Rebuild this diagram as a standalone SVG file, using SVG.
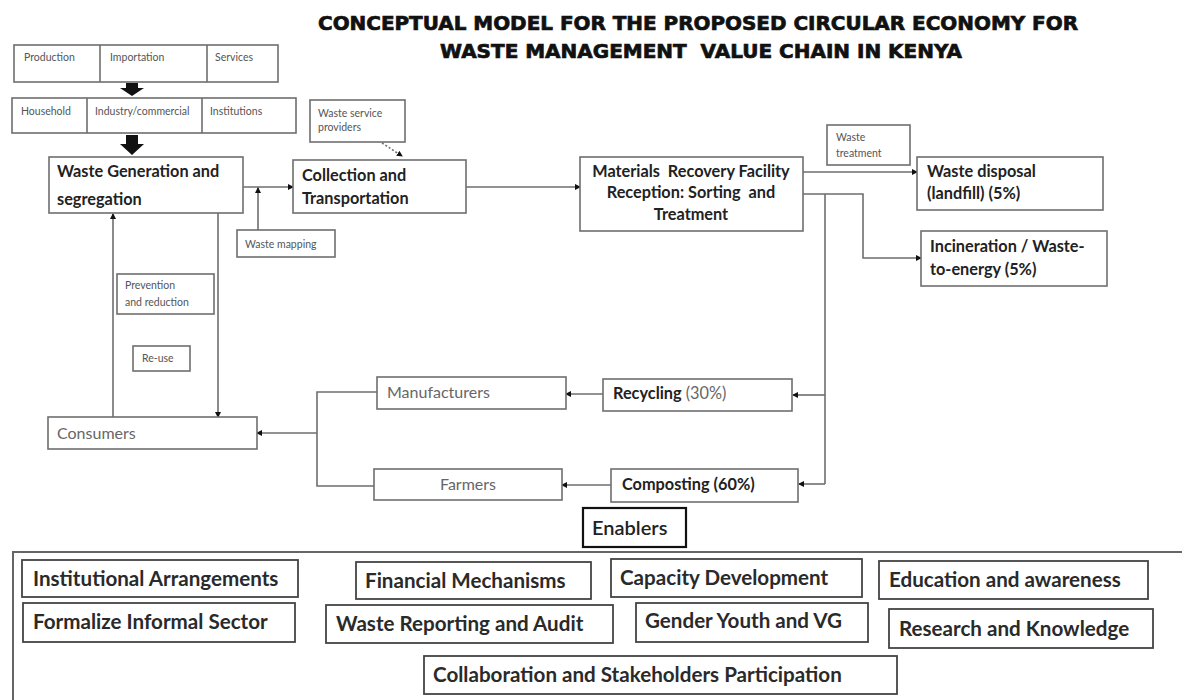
<svg xmlns="http://www.w3.org/2000/svg" width="1182" height="700" viewBox="0 0 1182 700">
<style>
.bx{fill:#fff;stroke:#6e6e6e;stroke-width:1.6}
.ebx{fill:#fff;stroke:#444;stroke-width:1.8}
.ln{fill:none;stroke:#6e6e6e;stroke-width:1.6}
.tiny{font-family:Lato,"Liberation Sans",sans-serif;font-size:10.5px;fill:#555}
.bold{font-family:Lato,"Liberation Sans",sans-serif;font-size:16.3px;font-weight:bold;fill:#222}
.reg{font-family:Lato,"Liberation Sans",sans-serif;font-size:16px;fill:#666}
.en{font-family:Lato,"Liberation Sans",sans-serif;font-size:20.6px;font-weight:bold;fill:#2a2a2a}
.title{font-family:"DejaVu Sans",sans-serif;font-size:19px;font-weight:bold;fill:#111;stroke:#111;stroke-width:0.7}
</style>
<defs>
<marker id="ah" markerWidth="6" markerHeight="6" refX="5" refY="3" orient="auto" markerUnits="userSpaceOnUse">
<path d="M0,0 L6,3 L0,6 z" fill="#111"/>
</marker>
</defs>
<rect width="1182" height="700" fill="#fff"/>
<g id="title">
<text class="title" x="698" y="30" text-anchor="middle" textLength="760" lengthAdjust="spacingAndGlyphs">CONCEPTUAL MODEL FOR THE PROPOSED CIRCULAR ECONOMY FOR</text>
<text class="title" x="701" y="58" text-anchor="middle" textLength="522" lengthAdjust="spacingAndGlyphs" xml:space="preserve">WASTE MANAGEMENT  VALUE CHAIN IN KENYA</text>
</g>
<g id="sources">
<rect class="bx" x="14" y="45" width="264" height="37"/>
<line class="ln" x1="100" y1="45" x2="100" y2="82"/>
<line class="ln" x1="207" y1="45" x2="207" y2="82"/>
<text class="tiny" x="24" y="61">Production</text>
<text class="tiny" x="110" y="61">Importation</text>
<text class="tiny" x="215" y="61">Services</text>
</g>
<g id="generators">
<rect class="bx" x="12" y="98" width="284" height="35"/>
<line class="ln" x1="87" y1="98" x2="87" y2="133"/>
<line class="ln" x1="202" y1="98" x2="202" y2="133"/>
<text class="tiny" x="21" y="115">Household</text>
<text class="tiny" x="95" y="115">Industry/commercial</text>
<text class="tiny" x="210" y="115">Institutions</text>
</g>
<g id="block-arrows" fill="#111">
<polygon points="126,83 138,83 138,88 144,88 132,96 120,88 126,88"/>
<polygon points="126,135 138,135 138,144 144,144 132,155 120,144 126,144"/>
</g>
<g id="connectors">
<line class="ln" x1="243" y1="187" x2="293" y2="187" marker-end="url(#ah)"/>
<line class="ln" x1="258" y1="230" x2="258" y2="188" marker-end="url(#ah)"/>
<line class="ln" x1="382" y1="143" x2="402" y2="156" stroke-dasharray="2,2" marker-end="url(#ah)"/>
<line class="ln" x1="466" y1="187" x2="580" y2="187" marker-end="url(#ah)"/>
<line class="ln" x1="803" y1="172" x2="917" y2="172" marker-end="url(#ah)"/>
<polyline class="ln" points="803,194 863,194 863,258 921,258" marker-end="url(#ah)"/>
<line class="ln" x1="825" y1="194" x2="825" y2="484"/>
<line class="ln" x1="825" y1="395" x2="793" y2="395" marker-end="url(#ah)"/>
<line class="ln" x1="825" y1="484" x2="799" y2="484" marker-end="url(#ah)"/>
<line class="ln" x1="603" y1="394" x2="566" y2="394" marker-end="url(#ah)"/>
<line class="ln" x1="611" y1="485" x2="562" y2="485" marker-end="url(#ah)"/>
<polyline class="ln" points="377,392 317,392 317,486 374,486"/>
<line class="ln" x1="317" y1="433" x2="257" y2="433" marker-end="url(#ah)"/>
<line class="ln" x1="113" y1="417" x2="113" y2="214" marker-end="url(#ah)"/>
<line class="ln" x1="218" y1="213" x2="218" y2="417" marker-end="url(#ah)"/>
</g>
<g id="waste-generation">
<rect class="bx" x="49" y="157" width="194" height="56"/>
<text class="bold" x="57" y="177">Waste Generation and</text>
<text class="bold" x="57" y="205">segregation</text>
</g>
<g id="collection">
<rect class="bx" x="293" y="160" width="173" height="53"/>
<text class="bold" x="302" y="181">Collection and</text>
<text class="bold" x="302" y="204">Transportation</text>
</g>
<g id="waste-service-providers">
<rect class="bx" x="310" y="100" width="95" height="42"/>
<text class="tiny" x="318" y="117">Waste service</text>
<text class="tiny" x="318" y="131">providers</text>
</g>
<g id="waste-mapping">
<rect class="bx" x="237" y="230" width="98" height="27"/>
<text class="tiny" x="245" y="248">Waste mapping</text>
</g>
<g id="mrf">
<rect class="bx" x="580" y="157" width="223" height="74"/>
<text class="bold" x="691" y="177" text-anchor="middle" xml:space="preserve">Materials  Recovery Facility</text>
<text class="bold" x="691" y="198" text-anchor="middle" xml:space="preserve">Reception: Sorting  and</text>
<text class="bold" x="691" y="220" text-anchor="middle">Treatment</text>
</g>
<g id="waste-treatment">
<rect class="bx" x="827" y="125" width="83" height="40"/>
<text class="tiny" x="836" y="141" font-size="9">Waste</text>
<text class="tiny" x="836" y="157" font-size="9">treatment</text>
</g>
<g id="waste-disposal">
<rect class="bx" x="917" y="157" width="186" height="53"/>
<text class="bold" x="927" y="177" font-weight="600">Waste disposal</text>
<text class="bold" x="927" y="199" font-weight="600">(landfill) (5%)</text>
</g>
<g id="incineration">
<rect class="bx" x="921" y="231" width="186" height="55"/>
<text class="bold" x="930" y="252" font-weight="600">Incineration / Waste-</text>
<text class="bold" x="930" y="275" font-weight="600">to-energy (5%)</text>
</g>
<g id="recycling">
<rect class="bx" x="603" y="379" width="189" height="32"/>
<text x="613" y="399" class="bold" font-size="16">Recycling<tspan font-weight="normal" fill="#666"> (30%)</tspan></text>
</g>
<g id="manufacturers">
<rect class="bx" x="377" y="377" width="189" height="32"/>
<text class="reg" x="387" y="398">Manufacturers</text>
</g>
<g id="composting">
<rect class="bx" x="611" y="469" width="187" height="33"/>
<text class="bold" x="622" y="490" font-size="16">Composting (60%)</text>
</g>
<g id="farmers">
<rect class="bx" x="374" y="469" width="188" height="31"/>
<text class="reg" x="468" y="490" text-anchor="middle">Farmers</text>
</g>
<g id="consumers">
<rect class="bx" x="48" y="417" width="209" height="32"/>
<text class="reg" x="57" y="439">Consumers</text>
</g>
<g id="prevention">
<rect class="bx" x="117" y="274" width="97" height="40"/>
<text class="tiny" x="125" y="289" fill="#333">Prevention</text>
<text class="tiny" x="125" y="306" fill="#333">and reduction</text>
</g>
<g id="reuse">
<rect class="bx" x="133" y="346" width="57" height="25"/>
<text class="tiny" x="142" y="362" fill="#333">Re-use</text>
</g>
<g id="enablers-frame">
<rect x="13" y="552" width="1180" height="160" fill="none" stroke="#666" stroke-width="2"/>
</g>
<g id="enablers">
<rect x="583" y="508" width="103" height="39" fill="#fff" stroke="#111" stroke-width="2.2"/>
<text x="592" y="535" font-family="Lato,'Liberation Sans',sans-serif" font-size="20" font-weight="600" fill="#222">Enablers</text>
</g>
<g id="institutional-arrangements">
<rect class="ebx" x="22" y="560" width="276" height="37"/>
<text class="en" x="33" y="586">Institutional Arrangements</text>
</g>
<g id="formalize-informal-sector">
<rect class="ebx" x="23" y="603" width="272" height="39"/>
<text class="en" x="33" y="629">Formalize Informal Sector</text>
</g>
<g id="financial-mechanisms">
<rect class="ebx" x="356" y="562" width="235" height="37"/>
<text class="en" x="365" y="588">Financial Mechanisms</text>
</g>
<g id="waste-reporting">
<rect class="ebx" x="326" y="605" width="287" height="38"/>
<text class="en" x="336" y="631">Waste Reporting and Audit</text>
</g>
<g id="collaboration">
<rect class="ebx" x="424" y="656" width="473" height="38"/>
<text class="en" x="433" y="682">Collaboration and Stakeholders Participation</text>
</g>
<g id="capacity-development">
<rect class="ebx" x="611" y="559" width="251" height="38"/>
<text class="en" x="620" y="585">Capacity Development</text>
</g>
<g id="education">
<rect class="ebx" x="879" y="561" width="269" height="38"/>
<text class="en" x="889" y="587">Education and awareness</text>
</g>
<g id="gender-youth">
<rect class="ebx" x="636" y="603" width="232" height="39"/>
<text class="en" x="645" y="628">Gender Youth and VG</text>
</g>
<g id="research">
<rect class="ebx" x="889" y="609" width="264" height="39"/>
<text class="en" x="899" y="636">Research and Knowledge</text>
</g>
</svg>
